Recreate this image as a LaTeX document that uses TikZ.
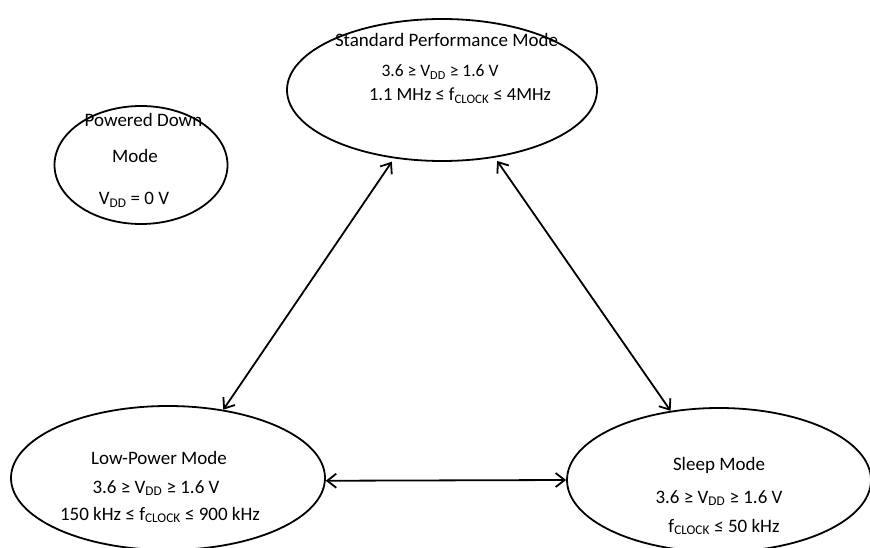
\documentclass[tikz,border=0pt]{standalone}
\usepackage{fontspec}
\setmainfont{Carlito}
\usetikzlibrary{shapes.geometric,arrows.meta}
\newcommand\lo[1]{\textsubscript{#1}}
\begin{document}
\begin{tikzpicture}[x=1pt,y=-1pt,
  mode/.style={draw=black,line width=1.8pt,ellipse,inner sep=0pt},
  txt/.style={anchor=base,inner sep=0pt,text=black,font=\fontsize{19}{22}\selectfont},
  midtxt/.style={txt,font=\fontsize{18.5}{21}\selectfont},
  lowtxt/.style={txt,font=\fontsize{17.5}{20}\selectfont},
  link/.style={line width=1.8pt,{Straight Barb[length=9pt,width=14pt]}-{Straight Barb[length=9pt,width=14pt]}}]
\useasboundingbox (0,0) rectangle (870,548);
% ellipses
\node[mode,minimum width=310pt,minimum height=142pt] (sp) at (442,90) {};
\node[mode,minimum width=173pt,minimum height=118pt] (pd) at (141,165) {};
\node[mode,minimum width=314pt,minimum height=144pt] (lp) at (168,478) {};
\node[mode,minimum width=304pt,minimum height=144pt] (sl) at (719,480) {};
% texts
\node[txt] (sp1) at (446.5,47) {Standard Performance Mode};
\node[lowtxt] (sp2) at (440,77) {3.6 ≥ V\lo{DD} ≥ 1.6 V};
\node[midtxt] (sp3) at (460,101) {1.1 MHz ≤ f\lo{CLOCK} ≤ 4MHz};
\node[txt] (pd1) at (143.5,127) {Powered Down};
\node[txt] (pd2) at (135,163) {Mode};
\node[txt] (pd3) at (134,205) {V\lo{DD} = 0 V};
\node[txt] (lp1) at (159,464) {Low-Power Mode};
\node[txt] (lp2) at (156,493) {3.6 ≥ V\lo{DD} ≥ 1.6 V};
\node[txt] (lp3) at (160,520) {150 kHz ≤ f\lo{CLOCK} ≤ 900 kHz};
\node[txt] (sl1) at (719,470) {Sleep Mode};
\node[txt] (sl2) at (719,503) {3.6 ≥ V\lo{DD} ≥ 1.6 V};
\node[txt] (sl3) at (724,532) {f\lo{CLOCK} ≤ 50 kHz};
% connectors
\draw[link,shorten <=4pt] (sp.235.9) -- (lp.51.8);
\draw[link,shorten <=4pt] (sp.308.9) -- (sl.125.8);
\draw[link] (lp.-1) -- (sl.180.5);
\end{tikzpicture}
\end{document}
